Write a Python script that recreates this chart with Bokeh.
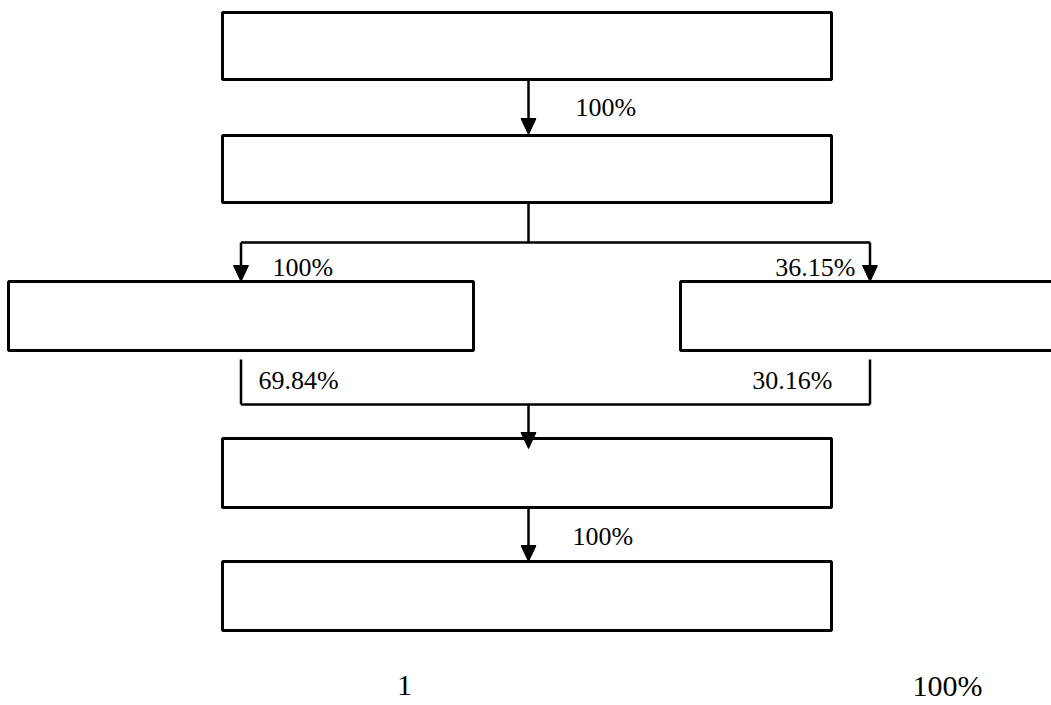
from bokeh.plotting import figure
from bokeh.models import Range1d
from bokeh.embed import file_html
from bokeh.resources import INLINE
from bokeh.core.properties import value

# ---- data ----
flow_labels = ["100%", "100%", "36.15%", "69.84%", "30.16%", "100%"]
footer_labels = ["1", "100%"]

# ---- layout (page pixel coordinates) ----
box_left = [222, 222, 8, 680, 222, 222]
box_right = [831, 831, 473, 1200, 831, 831]
box_top = [12, 135, 281, 281, 438, 561]
box_bottom = [79, 202, 350, 350, 507, 630]

# connector lines (no head)
line_xs = [[528, 528], [240.5, 869.5], [240.5, 240.5], [869.5, 869.5], [240.5, 869.5]]
line_ys = [[202, 242], [242, 242], [359, 404], [359, 404], [404, 404]]

# arrows: x, y_start, y_tip
arrow_x = [528, 240.5, 869.5, 528, 528]
arrow_y0 = [79, 242, 242, 404, 507]
arrow_tip = [134, 281, 281, 448, 561]
head_len = 16
head_half = 7.5

label_x = [575, 272, 855, 258, 832, 572]
label_y = [107, 267, 267, 380, 380, 536]
label_align = ["left", "left", "right", "left", "right", "left"]

footer_x = [404, 947]
footer_y = [685, 685]

p = figure(width=1051, height=705, output_backend="svg", toolbar_location=None,
           x_range=Range1d(0, 1051), y_range=Range1d(705, 0), min_border=0)
p.axis.visible = False
p.grid.visible = False
p.outline_line_color = None
p.background_fill_color = "white"
p.border_fill_color = "white"

p.quad(left=box_left, right=box_right, top=box_top, bottom=box_bottom,
       fill_color="white", line_color="black", line_width=3)

p.multi_line(xs=line_xs, ys=line_ys, line_color="black", line_width=2.5)

shaft_xs = [[x, x] for x in arrow_x]
shaft_ys = [[y0, yt - head_len + 1] for y0, yt in zip(arrow_y0, arrow_tip)]
p.multi_line(xs=shaft_xs, ys=shaft_ys, line_color="black", line_width=2.5)

head_xs = [[x - head_half, x + head_half, x] for x in arrow_x]
head_ys = [[yt - head_len, yt - head_len, yt] for yt in arrow_tip]
p.patches(xs=head_xs, ys=head_ys, fill_color="black", line_color="black", line_width=1)

p.text(x=label_x, y=label_y, text=flow_labels, text_align=label_align,
       text_baseline="middle", text_font=value("Liberation Serif"),
       text_font_size="26px", text_color="black")

p.text(x=footer_x, y=footer_y, text=footer_labels, text_align="center",
       text_baseline="middle", text_font=value("Liberation Serif"),
       text_font_size="30px", text_color="black")

open("out.html", "w").write(file_html(p, INLINE))
